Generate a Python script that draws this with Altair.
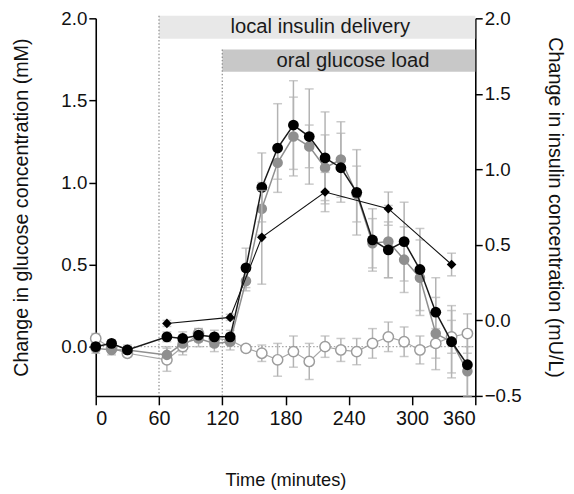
import altair as alt
import pandas as pd

# ---------------- data ----------------
times = [0, 15, 30, 67.5, 82.5, 97.5, 112.5, 127.5, 142.5, 157.5, 172.5, 187.5,
         202.5, 217.5, 232.5, 247.5, 262.5, 277.5, 292.5, 307.5, 322.5, 337.5, 352.5]

black_mean = [0.00, 0.02, -0.02, 0.06, 0.05, 0.07, 0.06, 0.06, 0.48, 0.97, 1.21, 1.35,
              1.28, 1.15, 1.09, 0.94, 0.65, 0.59, 0.64, 0.47, 0.21, 0.03, -0.11]
black_err = [0.02, 0.02, 0.02, 0.03, 0.04, 0.04, 0.04, 0.04, 0.12, 0.21, 0.27, 0.27,
             0.29, 0.28, 0.21, 0.26, 0.19, 0.17, 0.24, 0.25, 0.21, 0.19, 0.19]

gray_mean = [-0.01, -0.02, -0.02, -0.05, 0.02, 0.05, 0.02, 0.03, 0.40, 0.84, 1.12, 1.28,
             1.22, 1.09, 1.14, 0.93, 0.63, 0.64, 0.53, 0.42, 0.08, 0.03, -0.15]
gray_err = [0.03, 0.03, 0.03, 0.05, 0.05, 0.05, 0.05, 0.05, 0.06, 0.16, 0.10, 0.24,
            0.13, 0.20, 0.23, 0.17, 0.15, 0.22, 0.20, 0.23, 0.22, 0.22, 0.15]

open_mean = [0.05, -0.01, -0.04, -0.08, 0.00, 0.08, 0.05, 0.04, -0.01, -0.04, -0.08, -0.03,
             -0.09, 0.00, -0.02, -0.03, 0.02, 0.06, 0.03, -0.02, 0.02, 0.06, 0.08]
open_err = [0.03, 0.02, 0.02, 0.07, 0.05, 0.03, 0.03, 0.03, 0.02, 0.05, 0.10, 0.095,
            0.11, 0.065, 0.07, 0.08, 0.09, 0.09, 0.09, 0.085, 0.09, 0.10, 0.12]

ins_times = [67.5, 127.5, 157.5, 217.5, 277.5, 337.5]
ins_mean = [-0.02, 0.02, 0.55, 0.85, 0.74, 0.37]
ins_err = [0.02, 0.02, 0.31, 0.13, 0.11, 0.075]

x_ticks = [0, 60, 120, 180, 240, 300, 360]
left_ticks = [0.0, 0.5, 1.0, 1.5, 2.0]
right_ticks = [-0.5, 0.0, 0.5, 1.0, 1.5, 2.0]

band_labels = ["local insulin delivery", "oral glucose load"]
band_start = [60, 120]
band_end = [360, 360]
band_top = [2.015, 1.81]
band_bottom = [1.875, 1.675]
band_fill = ["#e8e8e8", "#c8c8c8"]
band_text_x = [213, 244]

# ---------------- helpers ----------------
FONT = "Liberation Sans"
ERR_COLOR = "#b3b3b3"


def series_df(t, m, e):
    return pd.DataFrame({
        "t": t, "m": m,
        "lo": [a - b for a, b in zip(m, e)],
        "hi": [a + b for a, b in zip(m, e)],
    })


black_df = series_df(times, black_mean, black_err)
gray_df = series_df(times, gray_mean, gray_err)
open_df = series_df(times, open_mean, open_err)
ins_df = series_df(ins_times, ins_mean, ins_err)
err_all = pd.concat([open_df, gray_df, black_df], ignore_index=True)

bands_df = pd.DataFrame({
    "label": band_labels, "x0": band_start, "x1": band_end,
    "ytop": band_top, "ybot": band_bottom, "fill": band_fill,
    "tx": band_text_x,
    "ty": [(a + b) / 2 for a, b in zip(band_top, band_bottom)],
})
vlines_df = pd.DataFrame({"x": band_start, "ytop": band_top, "ybot": [-0.3, -0.3]})
zero_df = pd.DataFrame({"x0": [0], "x1": [360], "y": [0.0]})

X_AXIS = alt.Axis(values=x_ticks, format="d", tickSize=9, labelPadding=4,
                  titlePadding=43, grid=False)
L_SCALE = alt.Scale(domain=[-0.3, 2.0], nice=False, zero=False)
L_AXIS = alt.Axis(values=left_ticks, format=".1f", tickSize=7, labelPadding=2,
                  titlePadding=30, grid=False, orient="left", titleFontSize=20)
L_TITLE = "Change in glucose concentration (mM)"
R_SCALE = alt.Scale(domain=[-0.5, 2.0], nice=False, zero=False)
R_AXIS = alt.Axis(values=right_ticks, format=".1f", tickSize=7, labelPadding=2,
                  titlePadding=24, grid=False, orient="right", titleFontSize=20)
R_TITLE = "Change in insulin concentration (mU/L)"


def X(field):
    return alt.X(field, type="quantitative", scale=alt.Scale(domain=[0, 360], nice=False),
                 axis=X_AXIS, title="Time (minutes)")


def YL(field):
    return alt.Y(field, type="quantitative", scale=L_SCALE, axis=L_AXIS, title=L_TITLE)


def YR(field):
    return alt.Y(field, type="quantitative", scale=R_SCALE, axis=R_AXIS, title=R_TITLE)


# ---------------- left layers ----------------
bands = alt.Chart(bands_df).mark_rect().encode(
    x=X("x0"), x2="x1", y=YL("ytop"), y2="ybot",
    color=alt.Color("fill:N", scale=None),
)
band_text = alt.Chart(bands_df).mark_text(font=FONT, fontSize=20.5, color="#1a1a1a",
                                          baseline="middle").encode(
    x=X("tx"), y=YL("ty"), text="label:N")

vlines = alt.Chart(vlines_df).mark_rule(color="#8c8c8c", strokeDash=[1.5, 2],
                                        strokeWidth=1.2).encode(
    x=X("x"), y=YL("ytop"), y2="ybot")
zero_line = alt.Chart(zero_df).mark_rule(color="#a8a8a8", strokeDash=[1.5, 2],
                                         strokeWidth=1.2).encode(
    x=X("x0"), x2="x1", y=YL("y"))

err_rule = alt.Chart(err_all).mark_rule(color=ERR_COLOR, strokeWidth=1.5).encode(
    x=X("t"), y=YL("lo"), y2="hi")
err_cap_lo = alt.Chart(err_all).mark_tick(color=ERR_COLOR, orient="horizontal",
                                          size=9, thickness=1.5).encode(x=X("t"), y=YL("lo"))
err_cap_hi = alt.Chart(err_all).mark_tick(color=ERR_COLOR, orient="horizontal",
                                          size=9, thickness=1.5).encode(x=X("t"), y=YL("hi"))

open_line = alt.Chart(open_df).mark_line(color="#a6a6a6", strokeWidth=1.2).encode(
    x=X("t"), y=YL("m"))
open_pts = alt.Chart(open_df).mark_point(shape="circle", filled=False, fill="white",
                                         fillOpacity=1, stroke="#9c9c9c", strokeWidth=1.5,
                                         size=110, opacity=1).encode(x=X("t"), y=YL("m"))

gray_line = alt.Chart(gray_df).mark_line(color="#8f8f8f", strokeWidth=1.5).encode(
    x=X("t"), y=YL("m"))
gray_pts = alt.Chart(gray_df).mark_point(shape="circle", filled=True, color="#8f8f8f",
                                         size=115, opacity=1).encode(x=X("t"), y=YL("m"))

black_line = alt.Chart(black_df).mark_line(color="#1a1a1a", strokeWidth=1.5).encode(
    x=X("t"), y=YL("m"))
black_pts = alt.Chart(black_df).mark_point(shape="circle", filled=True, color="black",
                                           size=120, opacity=1).encode(x=X("t"), y=YL("m"))

left = alt.layer(bands, band_text, vlines, zero_line, err_rule, err_cap_lo, err_cap_hi,
                 open_line, open_pts, gray_line, gray_pts, black_line, black_pts)

# ---------------- right layers ----------------
ins_rule = alt.Chart(ins_df).mark_rule(color=ERR_COLOR, strokeWidth=1.5).encode(
    x=X("t"), y=YR("lo"), y2="hi")
ins_cap_lo = alt.Chart(ins_df).mark_tick(color=ERR_COLOR, orient="horizontal",
                                         size=9, thickness=1.5).encode(x=X("t"), y=YR("lo"))
ins_cap_hi = alt.Chart(ins_df).mark_tick(color=ERR_COLOR, orient="horizontal",
                                         size=9, thickness=1.5).encode(x=X("t"), y=YR("hi"))
ins_line = alt.Chart(ins_df).mark_line(color="#111111", strokeWidth=1.1).encode(
    x=X("t"), y=YR("m"))
ins_pts = alt.Chart(ins_df).mark_point(shape="diamond", filled=True, color="black",
                                       size=95, opacity=1).encode(x=X("t"), y=YR("m"))

right = alt.layer(ins_rule, ins_cap_lo, ins_cap_hi, ins_line, ins_pts)

chart = alt.layer(left, right).resolve_scale(y="independent").properties(
    width=385, height=383,
    autosize=alt.AutoSizeParams(type="none"),
    padding={"left": 89, "top": 7, "right": 92, "bottom": 96},
).configure_view(stroke=None).configure_axis(
    domainColor="black", domainWidth=1.6, tickColor="black", tickWidth=1.5,
    labelFont=FONT, labelFontSize=19, labelColor="#111111",
    titleFont=FONT, titleFontSize=20, titleFontWeight="normal", titleColor="#111111",
).configure_axisX(titleFontSize=18.5, labelFontSize=20)

chart.save("out.html", embed_options={"renderer": "svg", "actions": False})
